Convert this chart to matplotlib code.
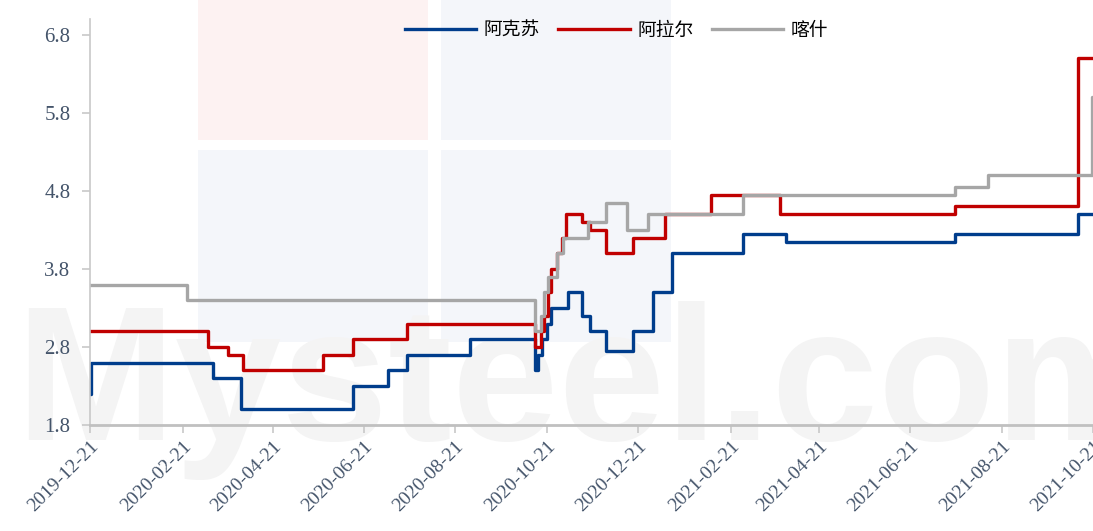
import matplotlib
matplotlib.use('Agg')
import matplotlib.pyplot as plt
from matplotlib.patches import Rectangle
import pandas as pd

plt.rcParams['font.family'] = ['Noto Sans CJK SC', 'DejaVu Sans']

# 阿克苏 change points
aks_dates = ['2019-12-21', '2019-12-22', '2020-03-12', '2020-03-31', '2020-06-14', '2020-07-07',
             '2020-07-20', '2020-08-31', '2020-10-13', '2020-10-15', '2020-10-18', '2020-10-21',
             '2020-10-24', '2020-11-04', '2020-11-14', '2020-11-19', '2020-11-30', '2020-12-18',
             '2020-12-31', '2021-01-13', '2021-03-01', '2021-03-30', '2021-07-21', '2021-10-11',
             '2021-10-21']
aks_vals = [2.2, 2.6, 2.4, 2.0, 2.3, 2.5,
            2.7, 2.9, 2.5, 2.7, 2.9, 3.1,
            3.3, 3.5, 3.2, 3.0, 2.75, 3.0,
            3.5, 4.0, 4.25, 4.15, 4.25, 4.5,
            4.5]

# 阿拉尔 change points
alr_dates = ['2019-12-21', '2020-03-09', '2020-03-22', '2020-04-01', '2020-05-25', '2020-06-14',
             '2020-07-20', '2020-10-13', '2020-10-17', '2020-10-19', '2020-10-22', '2020-10-24',
             '2020-10-28', '2020-10-31', '2020-11-03', '2020-11-14', '2020-11-19', '2020-11-30',
             '2020-12-18', '2021-01-08', '2021-02-08', '2021-03-26', '2021-07-21', '2021-10-11',
             '2021-10-21']
alr_vals = [3.0, 2.8, 2.7, 2.5, 2.7, 2.9,
            3.1, 2.8, 3.0, 3.2, 3.5, 3.8,
            4.0, 4.2, 4.5, 4.4, 4.3, 4.0,
            4.2, 4.5, 4.75, 4.5, 4.6, 6.5,
            6.5]

# 喀什 change points
ks_dates = ['2019-12-21', '2020-02-24', '2020-10-13', '2020-10-17', '2020-10-19', '2020-10-22',
            '2020-10-28', '2020-11-01', '2020-11-18', '2020-11-30', '2020-12-14', '2020-12-28',
            '2021-03-01', '2021-07-21', '2021-08-12', '2021-10-20', '2021-10-21']
ks_vals = [3.6, 3.4, 3.0, 3.2, 3.5, 3.7,
           4.0, 4.2, 4.4, 4.65, 4.3, 4.5,
           4.75, 4.85, 5.0, 6.0, 6.0]

tick_labels = ['2019-12-21', '2020-02-21', '2020-04-21', '2020-06-21', '2020-08-21', '2020-10-21',
               '2020-12-21', '2021-02-21', '2021-04-21', '2021-06-21', '2021-08-21', '2021-10-21']
y_ticks = [1.8, 2.8, 3.8, 4.8, 5.8, 6.8]

fig = plt.figure(figsize=(10.93, 5.31), dpi=100)
ax = fig.add_axes([0.0823, 0.1996, 0.9177, 0.7644])
ax.set_zorder(2)
ax.patch.set_alpha(0)

# watermark behind the axes
wm = fig.add_axes([0, 0, 1, 1], zorder=0)
wm.set_xlim(0, 1093)
wm.set_ylim(531, 0)
wm.axis('off')
for (x0, y0, w, h, c) in [(198, -90, 230, 230, '#fdf2f2'), (441, -90, 230, 230, '#f4f6fa'),
                          (198, 150, 230, 192, '#f4f6fa'), (441, 150, 230, 192, '#f4f6fa')]:
    wm.add_patch(Rectangle((x0, y0), w, h, color=c, lw=0))
wm.text(15, 440, 'Mysteel.com', fontsize=138, color='#f4f4f4', family='Liberation Sans',
        fontweight='bold', va='baseline')

ax.plot(pd.to_datetime(aks_dates), aks_vals, drawstyle='steps-post', color='#003d8c', lw=2.4, label='阿克苏')
ax.plot(pd.to_datetime(alr_dates), alr_vals, drawstyle='steps-post', color='#c00000', lw=2.4, label='阿拉尔')
ax.plot(pd.to_datetime(ks_dates), ks_vals, drawstyle='steps-post', color='#a6a6a6', lw=2.4, label='喀什')

ax.set_xlim(pd.Timestamp(tick_labels[0]), pd.Timestamp(tick_labels[-1]))
ax.set_ylim(1.8, 7.0)
ax.set_yticks(y_ticks)
ax.set_yticklabels([f'{v:.1f}' for v in y_ticks], family='Liberation Serif', fontsize=15)
ax.set_xticks(pd.to_datetime(tick_labels))
ax.set_xticklabels(tick_labels, family='Liberation Serif', fontsize=14, rotation=45,
                   ha='right', rotation_mode='anchor')

for s in ['top', 'right']:
    ax.spines[s].set_visible(False)
ax.spines['left'].set_color('#c8c8c8')
ax.spines['left'].set_linewidth(1.2)
ax.spines['bottom'].set_color('#c0c0c0')
ax.spines['bottom'].set_linewidth(2)
ax.tick_params(axis='both', colors='#c8c8c8', length=6, width=1.2, labelcolor='#44546a')
ax.tick_params(axis='y', pad=8)

ax.legend(loc='upper center', bbox_to_anchor=(0.525, 1.04), ncol=3, frameon=False,
          fontsize=13.5, handlelength=3.8, columnspacing=1.0, handletextpad=0.4)

fig.savefig('out.png', dpi=100)
